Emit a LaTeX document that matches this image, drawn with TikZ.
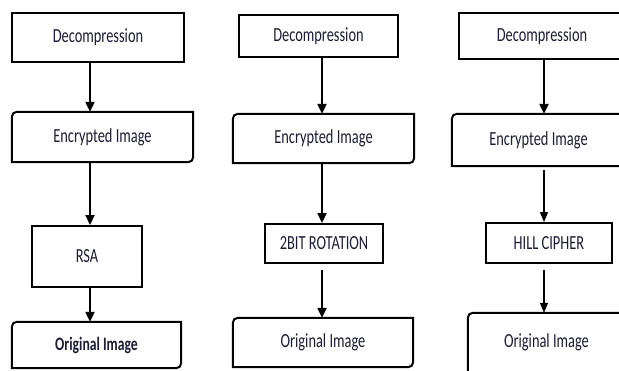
\documentclass[tikz,border=0pt]{standalone}
\usepackage{fontspec}
\setmainfont{Carlito}[FakeStretch=0.72]
\usetikzlibrary{arrows.meta}
\definecolor{txt}{RGB}{28,28,52}
\tikzset{
  blk/.style={text=txt, font=\fontsize{20}{24}\selectfont, inner sep=0pt},
  sq/.style={blk, draw, line width=2pt},
  arr/.style={line width=2.2pt, -{Triangle[width=9pt,length=10pt]}},
  thinarr/.style={line width=1.3pt, -{Triangle[width=8pt,length=10pt]}}
}
% box with round top-left and bottom-right corners
\newcommand\cutbox[1]{\draw[line width=2pt] (#1.south west) -- ([yshift=-5pt]#1.north west)
  arc[start angle=180,end angle=90,radius=5pt] -- (#1.north east) -- ([yshift=5pt]#1.south east)
  arc[start angle=0,end angle=-90,radius=5pt] -- cycle;}

\begin{document}
\begin{tikzpicture}[x=1pt,y=-1pt]
  \useasboundingbox (0,0) rectangle (619,370);

  % RSA
  \node[sq, minimum width=172pt, minimum height=49pt] (dec1) at (98,37.5) {Decompression};
  \node[blk, minimum width=181pt, minimum height=50pt] (enc1) at (102.5,137) {Encrypted Image};
  \node[sq, minimum width=110pt, minimum height=61pt] (rsa) at (87,256.5) {RSA};
  \node[blk, minimum width=169pt, minimum height=46pt, font=\fontsize{19}{24}\selectfont\bfseries] (orig1) at (96.5,345) {Original Image};
  \cutbox{enc1} \cutbox{orig1}
  \coordinate (ax1) at (90,0);
  \draw[arr] (dec1.south -| ax1) -- (enc1.north -| ax1);
  \draw[arr] (enc1.south -| ax1) -- (rsa.north -| ax1);
  \draw[arr] (rsa.south -| ax1) -- (orig1.north -| ax1);

  % 2 bit rotation
  \node[sq, minimum width=159pt, minimum height=42pt] (dec2) at (318.5,36) {Decompression};
  \node[blk, minimum width=181pt, minimum height=49pt] (enc2) at (323.5,138.5) {Encrypted Image};
  \node[sq, minimum width=118pt, minimum height=39pt] (rot) at (324,243.5) {2BIT ROTATION};
  \node[blk, minimum width=180pt, minimum height=49pt] (orig2) at (323,342.5) {Original Image};
  \cutbox{enc2} \cutbox{orig2}
  \coordinate (ax2) at (322,0);
  \draw[arr] (dec2.south -| ax2) -- (enc2.north -| ax2);
  \draw[arr] (enc2.south -| ax2) -- (rot.north -| ax2);
  \draw[arr, shorten <=6pt] (rot.south -| ax2) -- (orig2.north -| ax2);

  % hill cipher
  \node[sq, minimum width=166pt, minimum height=46pt] (dec3) at (542,36) {Decompression};
  \node[blk, minimum width=173pt, minimum height=52pt] (enc3) at (538.5,140) {Encrypted Image};
  \node[sq, minimum width=126pt, minimum height=40pt] (hill) at (549,243) {HILL CIPHER};
  \node[blk, minimum width=157pt, minimum height=59pt] (orig3) at (546.5,342.5) {Original Image};
  \cutbox{enc3} \cutbox{orig3}
  \coordinate (ax3) at (544,0);
  \draw[arr] (dec3.south -| ax3) -- (enc3.north -| ax3);
  \draw[thinarr, shorten <=4pt] (enc3.south -| ax3) -- (hill.north -| ax3);
  \draw[thinarr, shorten <=6pt] (hill.south -| ax3) -- (orig3.north -| ax3);
\end{tikzpicture}
\end{document}
